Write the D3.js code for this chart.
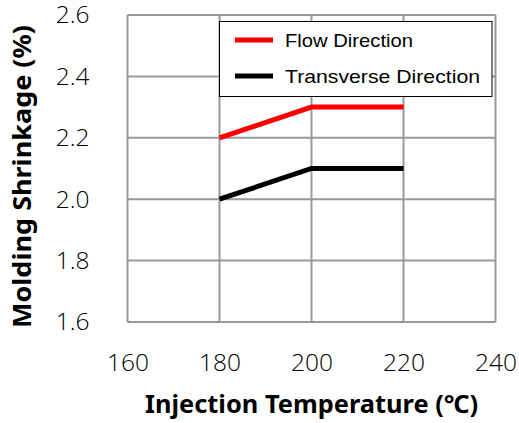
<!DOCTYPE html>
<html><head><meta charset="utf-8">
<script src="https://cdn.jsdelivr.net/npm/d3@7"></script>
<style>body{margin:0;background:#fff}</style>
</head><body>
<svg id="c" width="519" height="423"></svg>
<script>
const temps = [180, 200, 220];
const flowValues = [2.2, 2.3, 2.3];
const transverseValues = [2.0, 2.1, 2.1];
const xTicks = [160, 180, 200, 220, 240];
const yTicks = [1.6, 1.8, 2.0, 2.2, 2.4, 2.6];
const seriesNames = ["Flow Direction", "Transverse Direction"];
const seriesColors = ["#ff0000", "#000000"];

const svg = d3.select("#c");
const L = 127.5, R = 495.5, T = 15, B = 322;
const x = d3.scaleLinear().domain([160, 240]).range([L, R]);
const y = d3.scaleLinear().domain([1.6, 2.6]).range([B, T]);
const tickFont = "'Open Sans', 'Noto Sans', sans-serif";
const titleFont = "'Noto Sans', 'Open Sans', sans-serif";

// grid
const g = svg.append("g");
g.selectAll(".vg").data(xTicks).join("line")
  .attr("x1", d => x(d)).attr("x2", d => x(d)).attr("y1", T).attr("y2", B)
  .attr("stroke", "#999").attr("stroke-width", 2);
g.selectAll(".hg").data(yTicks).join("line")
  .attr("x1", L).attr("x2", R).attr("y1", d => y(d)).attr("y2", d => y(d))
  .attr("stroke", "#999").attr("stroke-width", 2);

// axes labels via d3 axes
const xa = svg.append("g").attr("transform", `translate(0,${B})`)
  .call(d3.axisBottom(x).tickValues(xTicks).tickFormat(d3.format("d")).tickSize(0).tickPadding(32));
xa.select(".domain").remove();
xa.selectAll("text").attr("font-family", tickFont).attr("font-weight", 300).attr("font-size", 24.5).attr("fill", "#000");
const ya = svg.append("g").attr("transform", `translate(${L},0)`)
  .call(d3.axisLeft(y).tickValues(yTicks).tickFormat(d3.format(".1f")).tickSize(0).tickPadding(38));
ya.select(".domain").remove();
ya.selectAll("text").attr("font-family", tickFont).attr("font-weight", 300).attr("font-size", 24.5).attr("fill", "#000");

// lines
const line = d3.line().x((d, i) => x(temps[i])).y(d => y(d));
[flowValues, transverseValues].forEach((vals, k) => {
  svg.append("path").datum(vals).attr("d", line)
    .attr("fill", "none").attr("stroke", seriesColors[k]).attr("stroke-width", 5);
});

// legend
const lg = svg.append("g");
lg.append("rect").attr("x", 219.5).attr("y", 21.5).attr("width", 272.5).attr("height", 75)
  .attr("fill", "#fff").attr("stroke", "#000").attr("stroke-width", 1);
const legendLens = [128, 195];
seriesNames.forEach((n, i) => {
  const yy = 40 + i * 36;
  lg.append("line").attr("x1", 235).attr("x2", 273).attr("y1", yy).attr("y2", yy)
    .attr("stroke", seriesColors[i]).attr("stroke-width", 5);
  lg.append("text").attr("x", 285).attr("y", yy + 6.5).text(n)
    .attr("font-family", "'Liberation Sans', Arial, sans-serif").attr("font-size", 18.5)
    .attr("textLength", legendLens[i]).attr("lengthAdjust", "spacingAndGlyphs").attr("fill", "#000");
});

// axis titles
svg.append("text").attr("x", 311.5).attr("y", 413).attr("text-anchor", "middle")
  .attr("font-family", titleFont).attr("font-weight", "bold").attr("font-size", 25)
  .attr("textLength", 333).attr("lengthAdjust", "spacingAndGlyphs")
  .text("Injection Temperature (℃)");
svg.append("text").attr("transform", "translate(31,176.5) rotate(-90)").attr("text-anchor", "middle")
  .attr("font-family", titleFont).attr("font-weight", "bold").attr("font-size", 25)
  .attr("textLength", 303).attr("lengthAdjust", "spacingAndGlyphs")
  .text("Molding Shrinkage (%)");
</script>
</body></html>
